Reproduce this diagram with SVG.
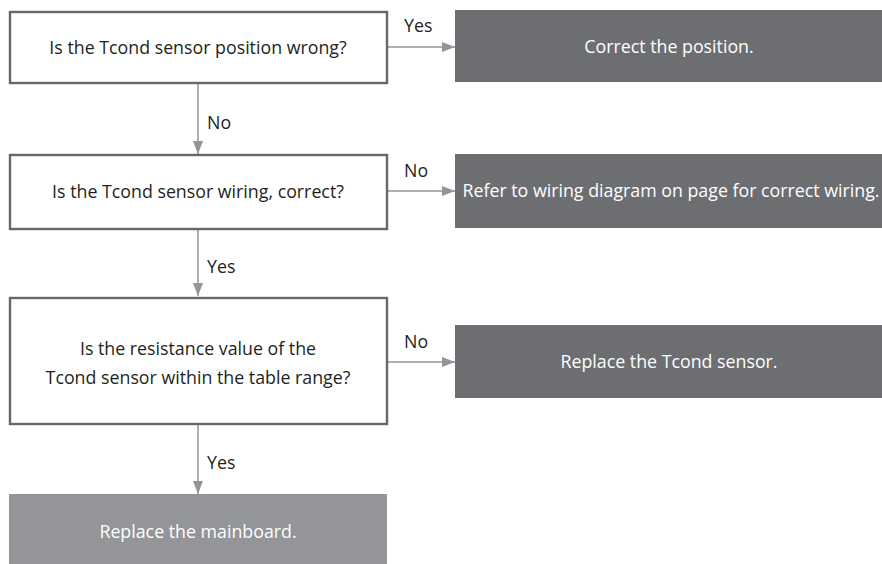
<svg xmlns="http://www.w3.org/2000/svg" width="882" height="564" viewBox="0 0 882 564">
<style>
.q{fill:#fff;stroke:#666769;stroke-width:2.4}
.a{fill:#6d6e71}
.m{fill:#939598}
.t{font-family:"Open Sans","Liberation Sans",sans-serif;font-size:17.8px;fill:#231f20}
.w{font-family:"Open Sans","Liberation Sans",sans-serif;font-size:17.8px;fill:#fff}
.c{text-anchor:middle}
.l{stroke:#939598;stroke-width:1.5;fill:none}
</style>
<defs>
<marker id="ah" viewBox="0 0 13 10" refX="13" refY="5" markerWidth="13" markerHeight="10" markerUnits="userSpaceOnUse" orient="auto">
<path d="M0,0 L13,5 L0,10 Z" fill="#939598"/>
</marker>
</defs>
<rect width="882" height="564" fill="#fff"/>
<g id="connectors">
<line class="l" x1="388" y1="47" x2="455" y2="47" marker-end="url(#ah)"/>
<line class="l" x1="198" y1="84" x2="198" y2="154" marker-end="url(#ah)"/>
<line class="l" x1="388" y1="191" x2="455" y2="191" marker-end="url(#ah)"/>
<line class="l" x1="198" y1="230" x2="198" y2="296" marker-end="url(#ah)"/>
<line class="l" x1="388" y1="362" x2="455" y2="362" marker-end="url(#ah)"/>
<line class="l" x1="198" y1="425" x2="198" y2="494" marker-end="url(#ah)"/>
<text class="t" x="404" y="32">Yes</text>
<text class="t" x="207" y="129">No</text>
<text class="t" x="404" y="177">No</text>
<text class="t" x="207" y="273">Yes</text>
<text class="t" x="404" y="348">No</text>
<text class="t" x="207" y="469">Yes</text>
</g>
<g id="q1">
<rect class="q" x="10" y="12" width="377" height="71"/>
<text class="t c" x="198" y="54">Is the Tcond sensor position wrong?</text>
</g>
<g id="a1">
<rect class="a" x="455" y="10" width="427" height="72"/>
<text class="w c" x="669" y="53">Correct the position.</text>
</g>
<g id="q2">
<rect class="q" x="10" y="155" width="377" height="74"/>
<text class="t c" x="198" y="198">Is the Tcond sensor wiring, correct?</text>
</g>
<g id="a2">
<rect class="a" x="455" y="154" width="427" height="74"/>
<text class="w c" x="671" y="197">Refer to wiring diagram on page for correct wiring.</text>
</g>
<g id="q3">
<rect class="q" x="10" y="298" width="377" height="126"/>
<text class="t c" x="198" y="355">Is the resistance value of the</text>
<text class="t c" x="198" y="384">Tcond sensor within the table range?</text>
</g>
<g id="a3">
<rect class="a" x="455" y="325" width="427" height="73"/>
<text class="w c" x="669" y="368">Replace the Tcond sensor.</text>
</g>
<g id="r4">
<rect class="m" x="9" y="494" width="378" height="70"/>
<text class="w c" x="198" y="538">Replace the mainboard.</text>
</g>
</svg>
